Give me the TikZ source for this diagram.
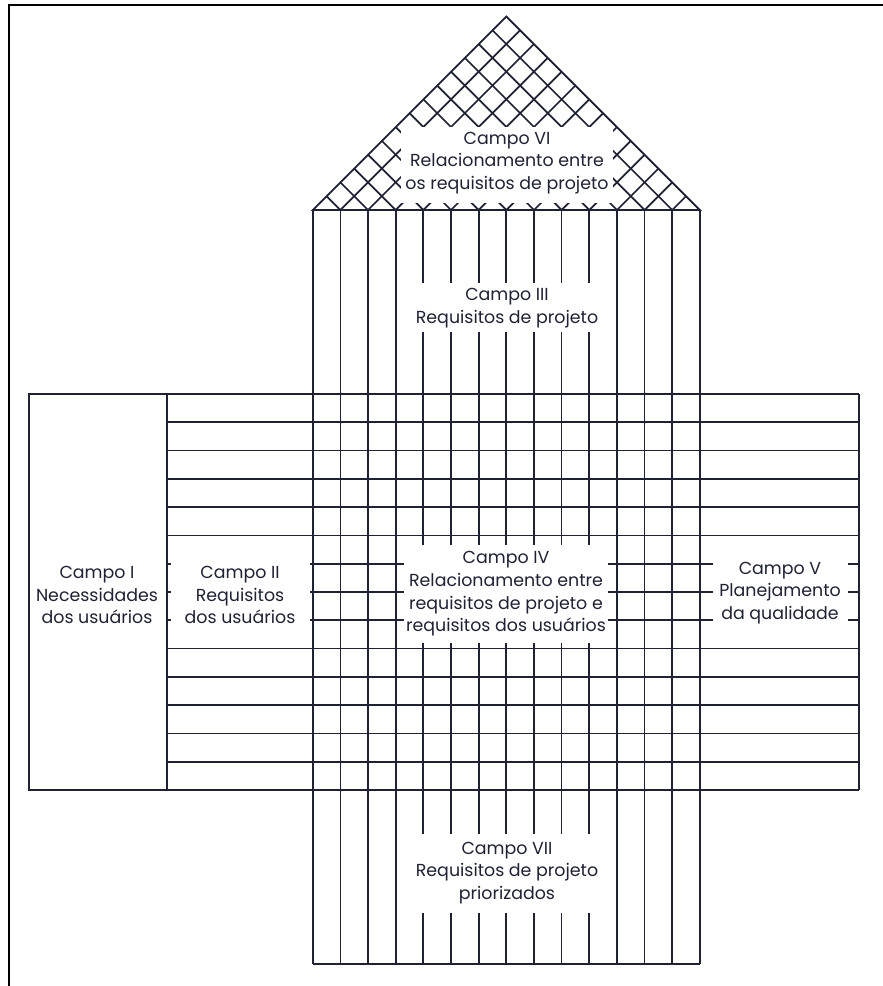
\documentclass[tikz,border=0pt]{standalone}
\usepackage{fontspec}
\setmainfont{Poppins}
\usepackage{tikz}
\usetikzlibrary{positioning}
\definecolor{ink}{HTML}{1E2233}

\begin{document}
\begin{tikzpicture}[x=0.5pt,y=-0.5pt,line width=0.85pt,color=ink,
  campo/.style={align=center,font=\fontsize{8.7}{11.3}\selectfont}]
  \useasboundingbox (0,0) rectangle (883,986);
  \draw[line width=1.1pt,black] (9,986) -- (9,5) -- (883,5);
  % roof
  \begin{scope}
    \clip (312.7,210) -- (506.3,16.4) -- (699.9,210) -- cycle;
    \foreach \i in {0,...,14}
      \draw (312.7+\i*27.66,210) -- ++(-400,-400) (312.7+\i*27.66,210) -- ++(400,-400);
  \end{scope}
  \draw (312.7,210) -- (506.3,16.4) -- (699.9,210) -- cycle;
  % columns and rows
  \foreach \i in {0,...,14}
    \draw (312.7+\i*27.66,210) -- (312.7+\i*27.66,964);
  \foreach \j in {0,...,14}
    \draw (167,394+\j*28.29) -- (859,394+\j*28.29);
  \draw (29,394) rectangle (167,790);
  \draw (859,394) -- (859,790);
  \draw (312.7,964) -- (699.9,964);
  % blank areas behind the texts
  \fill[white] (401,127) rectangle (613,203);
  \fill[white] (410,283) rectangle (604,332);
  \fill[white] (404,545) rectangle (608,643);
  \fill[white] (171,548) rectangle (310,638);
  \fill[white] (713,548) rectangle (848,638);
  \fill[white] (410,834) rectangle (604,913);
  \node[campo] (campoI) at (97,595) {Campo I\\Necessidades\\dos usuários};
  \node[campo] (campoII) at (240,595) {Campo II\\Requisitos\\dos usuários};
  \node[campo] (campoIII) at (507,308) {Campo III\\Requisitos de projeto};
  \node[campo] (campoIV) at (506,594) {Campo IV\\Relacionamento entre\\requisitos de projeto e\\requisitos dos usuários};
  \node[campo] (campoV) at (780,593) {Campo V\\Planejamento\\da qualidade};
  \node[campo] (campoVI) at (507,163) {Campo VI\\Relacionamento entre\\os requisitos de projeto};
  \node[campo] (campoVII) at (507,873) {Campo VII\\Requisitos de projeto\\priorizados};
\end{tikzpicture}
\end{document}
